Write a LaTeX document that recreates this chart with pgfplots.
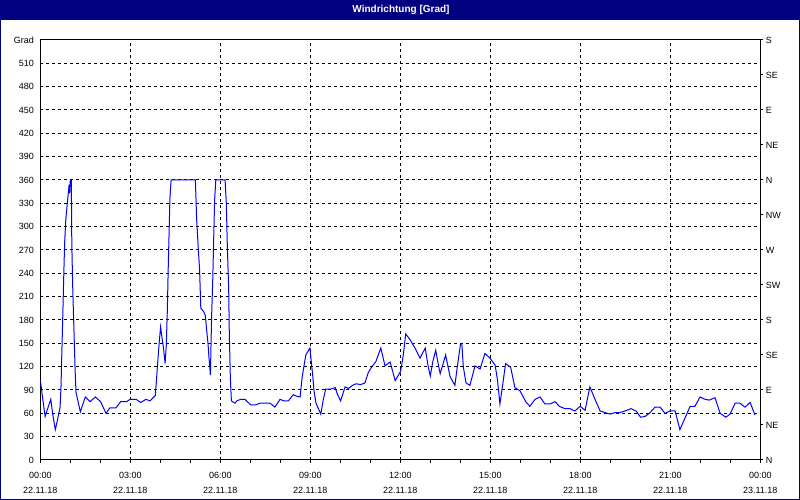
\documentclass[border=0pt]{standalone}
\usepackage{pgfplots}
\pgfplotsset{compat=1.18}
\usepackage{fontspec}
\setmainfont{Liberation Sans}
\definecolor{navy}{RGB}{0,0,128}
\definecolor{lineblue}{RGB}{0,0,255}
\begin{document}
\begin{tikzpicture}
\fill[white] (0pt,0pt) rectangle (800pt,500pt);
\fill[navy] (0pt,479.5pt) rectangle (800pt,500pt);
\draw[navy, line width=1pt] (0.5pt,0.5pt) rectangle (799.5pt,499.5pt);
\node[text=white, font=\bfseries\fontsize{10}{12}\selectfont] at (401pt,490pt) {Windrichtung [Grad]};
\begin{axis}[
  at={(40.3pt,40pt)}, anchor=south west, scale only axis,
  width=720pt, height=420pt,
  xmin=0, xmax=24, ymin=0, ymax=540,
  axis line style={black, line width=1pt},
  every tick/.style={black, line width=1pt},
  xtick={0,3,...,24},
  xticklabels={{00:00\\22.11.18},{03:00\\22.11.18},{06:00\\22.11.18},{09:00\\22.11.18},{12:00\\22.11.18},{15:00\\22.11.18},{18:00\\22.11.18},{21:00\\22.11.18},{00:00\\23.11.18}},
  minor xtick={0,1,...,24},
  xtick pos=bottom, ytick pos=left,
  tick align=outside,
  major tick length=3pt, minor tick length=3pt,
  ytick={0,30,...,540},
  yticklabels={0,30,60,90,120,150,180,210,240,270,300,330,360,390,420,450,480,510,Grad},
  ytick style={draw=none},
  xmajorgrids, ymajorgrids,
  major grid style={black, dash pattern=on 3pt off 3pt, line width=1pt},
  xticklabel style={align=center, font=\fontsize{9}{15}\selectfont, yshift=-6pt},
  yticklabel style={font=\fontsize{9}{11}\selectfont},
  /pgf/number format/assume math mode=true,
]
\addplot[lineblue, line width=1pt] coordinates {
(0,103) (0.08,79) (0.16,56) (0.21,62) (0.35,78) (0.41,60) (0.50,39) (0.57,51) (0.66,68) (0.69,94) (0.72,141) (0.75,186) (0.78,234) (0.81,278) (0.85,309) (0.90,330) (0.96,354) (0.98,343) (1.00,360) (1.035,360) (1.05,278) (1.08,223) (1.12,169) (1.16,116) (1.19,87) (1.335,62) (1.50,81) (1.66,75) (1.835,81) (2.01,75) (2.19,60) (2.32,67) (2.52,67) (2.68,75) (2.88,75) (2.99,78) (3.19,78) (3.35,74) (3.52,78) (3.66,76) (3.835,83) (3.88,107) (3.92,129) (3.97,154) (4.01,171) (4.05,159) (4.10,146) (4.16,124) (4.20,148) (4.235,193) (4.26,240) (4.29,287) (4.32,336) (4.36,360) (5.17,360) (5.21,311) (5.26,276) (5.31,244) (5.35,195) (5.44,191) (5.50,186) (5.55,165) (5.59,150) (5.62,133) (5.67,109) (5.71,184) (5.75,234) (5.78,285) (5.81,334) (5.85,360) (6.16,360) (6.20,330) (6.235,274) (6.28,219) (6.30,163) (6.335,105) (6.37,76) (6.49,73) (6.55,76) (6.68,78) (6.82,78) (7.01,71) (7.19,71) (7.32,73) (7.66,73) (7.82,68) (7.99,78) (8.12,76) (8.27,76) (8.43,84) (8.55,82) (8.66,81) (8.73,107) (8.85,135) (8.99,144) (9.02,131) (9.08,109) (9.12,90) (9.19,73) (9.27,66) (9.35,59) (9.43,77) (9.51,91) (9.66,91) (9.83,93) (9.90,85) (10.01,76) (10.16,94) (10.27,92) (10.41,96) (10.52,98) (10.68,97) (10.82,99) (10.93,112) (11.05,120) (11.18,126) (11.35,144) (11.49,121) (11.66,126) (11.83,102) (12.01,114) (12.10,135) (12.18,162) (12.32,155) (12.49,144) (12.66,131) (12.83,144) (12.93,120) (13.00,108) (13.08,126) (13.18,141) (13.27,122) (13.33,111) (13.51,135) (13.66,107) (13.82,96) (13.90,120) (14.01,150) (14.05,150) (14.10,120) (14.19,99) (14.32,96) (14.49,121) (14.66,117) (14.82,137) (14.99,131) (15.16,122) (15.24,103) (15.32,72) (15.41,96) (15.51,124) (15.68,119) (15.82,93) (15.99,89) (16.18,75) (16.32,69) (16.49,78) (16.66,81) (16.82,72) (16.99,72) (17.16,75) (17.30,69) (17.49,66) (17.66,66) (17.82,63) (17.99,69) (18.16,64) (18.32,94) (18.49,78) (18.66,63) (18.82,61) (18.99,59) (19.16,61) (19.32,61) (19.49,63) (19.69,66) (19.86,63) (20.01,55) (20.16,56) (20.30,60) (20.49,68) (20.66,68) (20.82,60) (20.99,63) (21.16,63) (21.32,39) (21.49,54) (21.66,69) (21.82,69) (21.99,81) (22.16,78) (22.30,77) (22.49,80) (22.66,60) (22.85,55) (22.99,59) (23.16,73) (23.32,73) (23.49,68) (23.66,74) (23.82,58)
};
\end{axis}
\begin{axis}[
  at={(40.3pt,40pt)}, anchor=south west, scale only axis,
  width=720pt, height=420pt,
  xmin=0, xmax=24, ymin=0, ymax=540,
  axis x line=none, axis y line*=right,
  axis line style={black, line width=1pt},
  every tick/.style={black, line width=1pt},
  tick align=outside, major tick length=3pt,
  ytick={0,45,...,540},
  yticklabels={N,NE,E,SE,S,SW,W,NW,N,NE,E,SE,S},
  yticklabel style={font=\fontsize{9}{11}\selectfont, anchor=west, xshift=-1pt},
]
\addplot[draw=none] coordinates {(0,0)};
\end{axis}
\end{tikzpicture}
\end{document}
